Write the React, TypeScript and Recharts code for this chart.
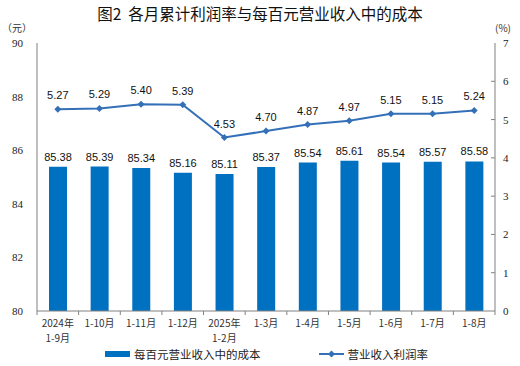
import React from "react";
import {
  ComposedChart,
  Bar,
  Line,
  XAxis,
  YAxis,
  LabelList,
} from "recharts";

const periods = [
  "2024年\n1-9月",
  "1-10月",
  "1-11月",
  "1-12月",
  "2025年\n1-2月",
  "1-3月",
  "1-4月",
  "1-5月",
  "1-6月",
  "1-7月",
  "1-8月",
];
const costPer100 = [85.38, 85.39, 85.34, 85.16, 85.11, 85.37, 85.54, 85.61, 85.54, 85.57, 85.58];
const profitRate = [5.27, 5.29, 5.4, 5.39, 4.53, 4.7, 4.87, 4.97, 5.15, 5.15, 5.24];
const leftTicks = [80, 82, 84, 86, 88, 90];
const rightTicks = [0, 1, 2, 3, 4, 5, 6, 7];

const data = periods.map((p, i) => ({
  period: p,
  cost: costPer100[i],
  rate: profitRate[i],
}));

const BAR = "#0070C0";
const LINE = "#3470B8";
const AXIS = "#808080";
const serif = "'Liberation Serif', 'Times New Roman', serif";
const sans = "'Liberation Sans', Arial, sans-serif";
const cjk = "'Noto Sans CJK SC', sans-serif";

const XTick = (props: any) => {
  const { x, y, payload, index } = props;
  const lines = String(payload.value).split("\n");
  const left = payload.coordinate - payload.offset;
  const right = payload.coordinate + payload.offset;
  return (
    <g>
      <line x1={left} x2={left} y1={y - 8} y2={y - 4} stroke={AXIS} />
      {index === periods.length - 1 && (
        <line x1={right} x2={right} y1={y - 8} y2={y - 4} stroke={AXIS} />
      )}
      {lines.map((t, i) => (
        <text
          key={i}
          x={x}
          y={y + 8 + i * 15}
          textAnchor="middle"
          fontSize={10}
          fontFamily={cjk}
          fill="#333"
        >
          {t}
        </text>
      ))}
    </g>
  );
};

const RightTick = (props: any) => {
  const { x, y, payload } = props;
  const ax = x - 8;
  return (
    <g>
      {payload.value !== 0 && payload.value !== 7 && (
        <line x1={ax - 4} x2={ax} y1={y} y2={y} stroke={AXIS} />
      )}
      <text x={x} y={y + 4} fontSize={11} fontFamily={serif} fill="#222">
        {payload.value}
      </text>
    </g>
  );
};

const Diamond = (props: any) => {
  const { cx, cy } = props;
  if (cx == null || cy == null) return null;
  const r = 3.5;
  return (
    <polygon
      points={`${cx},${cy - r} ${cx + r},${cy} ${cx},${cy + r} ${cx - r},${cy}`}
      fill={LINE}
    />
  );
};

export default function App() {
  return (
    <div style={{ position: "absolute", left: 0, top: 0, width: 520, height: 366, background: "#fff" }}>
      <div
        style={{
          position: "absolute",
          top: 2,
          width: 520,
          textAlign: "center",
          fontFamily: cjk,
          fontSize: 15.5,
          fontWeight: 400,
          color: "#111",
        }}
      >
        图2&nbsp;&nbsp;各月累计利润率与每百元营业收入中的成本
      </div>
      <div style={{ position: "absolute", left: 2, top: 20, fontFamily: cjk, fontSize: 10, color: "#333" }}>
        （元）
      </div>
      <div style={{ position: "absolute", left: 495, top: 20, fontFamily: cjk, fontSize: 10, color: "#333" }}>
        (%)
      </div>
      <ComposedChart
        width={520}
        height={366}
        data={data}
        margin={{ top: 43, right: 0, bottom: 0, left: 0 }}
        barCategoryGap={0}
      >
        <XAxis
          dataKey="period"
          interval={0}
          height={55}
          tickLine={false}
          axisLine={{ stroke: AXIS }}
          tick={<XTick />}
        />
        <XAxis
          xAxisId="top"
          orientation="top"
          dataKey="period"
          height={0}
          tick={false}
          tickLine={false}
          axisLine={{ stroke: AXIS }}
        />
        <YAxis
          yAxisId="left"
          domain={[80, 90]}
          ticks={leftTicks}
          width={37}
          tickLine={false}
          axisLine={{ stroke: AXIS }}
          tick={{ fontSize: 11, fontFamily: serif, fill: "#222" }}
          tickMargin={8}
        />
        <YAxis
          yAxisId="right"
          orientation="right"
          domain={[0, 7]}
          ticks={rightTicks}
          width={25}
          tickSize={0}
          tickMargin={8}
          tickLine={false}
          axisLine={{ stroke: AXIS }}
          tick={<RightTick />}
        />
        <Bar yAxisId="left" dataKey="cost" fill={BAR} barSize={18} isAnimationActive={false}>
          <LabelList
            dataKey="cost"
            position="top"
            offset={6}
            formatter={(v: any) => Number(v).toFixed(2)}
            style={{ fontSize: 11, fontFamily: sans, fill: "#111" }}
          />
        </Bar>
        <Line
          yAxisId="right"
          dataKey="rate"
          stroke={LINE}
          strokeWidth={2}
          dot={<Diamond />}
          activeDot={false}
          isAnimationActive={false}
        >
          <LabelList
            dataKey="rate"
            position="top"
            offset={10}
            formatter={(v: any) => Number(v).toFixed(2)}
            style={{ fontSize: 11, fontFamily: sans, fill: "#111" }}
          />
        </Line>
      </ComposedChart>
      <div
        style={{
          position: "absolute",
          top: 346,
          left: 105,
          display: "flex",
          alignItems: "center",
          fontFamily: cjk,
          fontSize: 11.5,
          color: "#222",
        }}
      >
        <span style={{ display: "inline-block", width: 25, height: 6, background: BAR, marginRight: 4 }} />
        <span>每百元营业收入中的成本</span>
        <span style={{ display: "inline-block", width: 58 }} />
        <svg width={25} height={8} style={{ marginRight: 4 }}>
          <line x1={0} x2={25} y1={4} y2={4} stroke={LINE} strokeWidth={2} />
          <polygon points="12.5,0.5 16,4 12.5,7.5 9,4" fill={LINE} />
        </svg>
        <span>营业收入利润率</span>
      </div>
    </div>
  );
}
